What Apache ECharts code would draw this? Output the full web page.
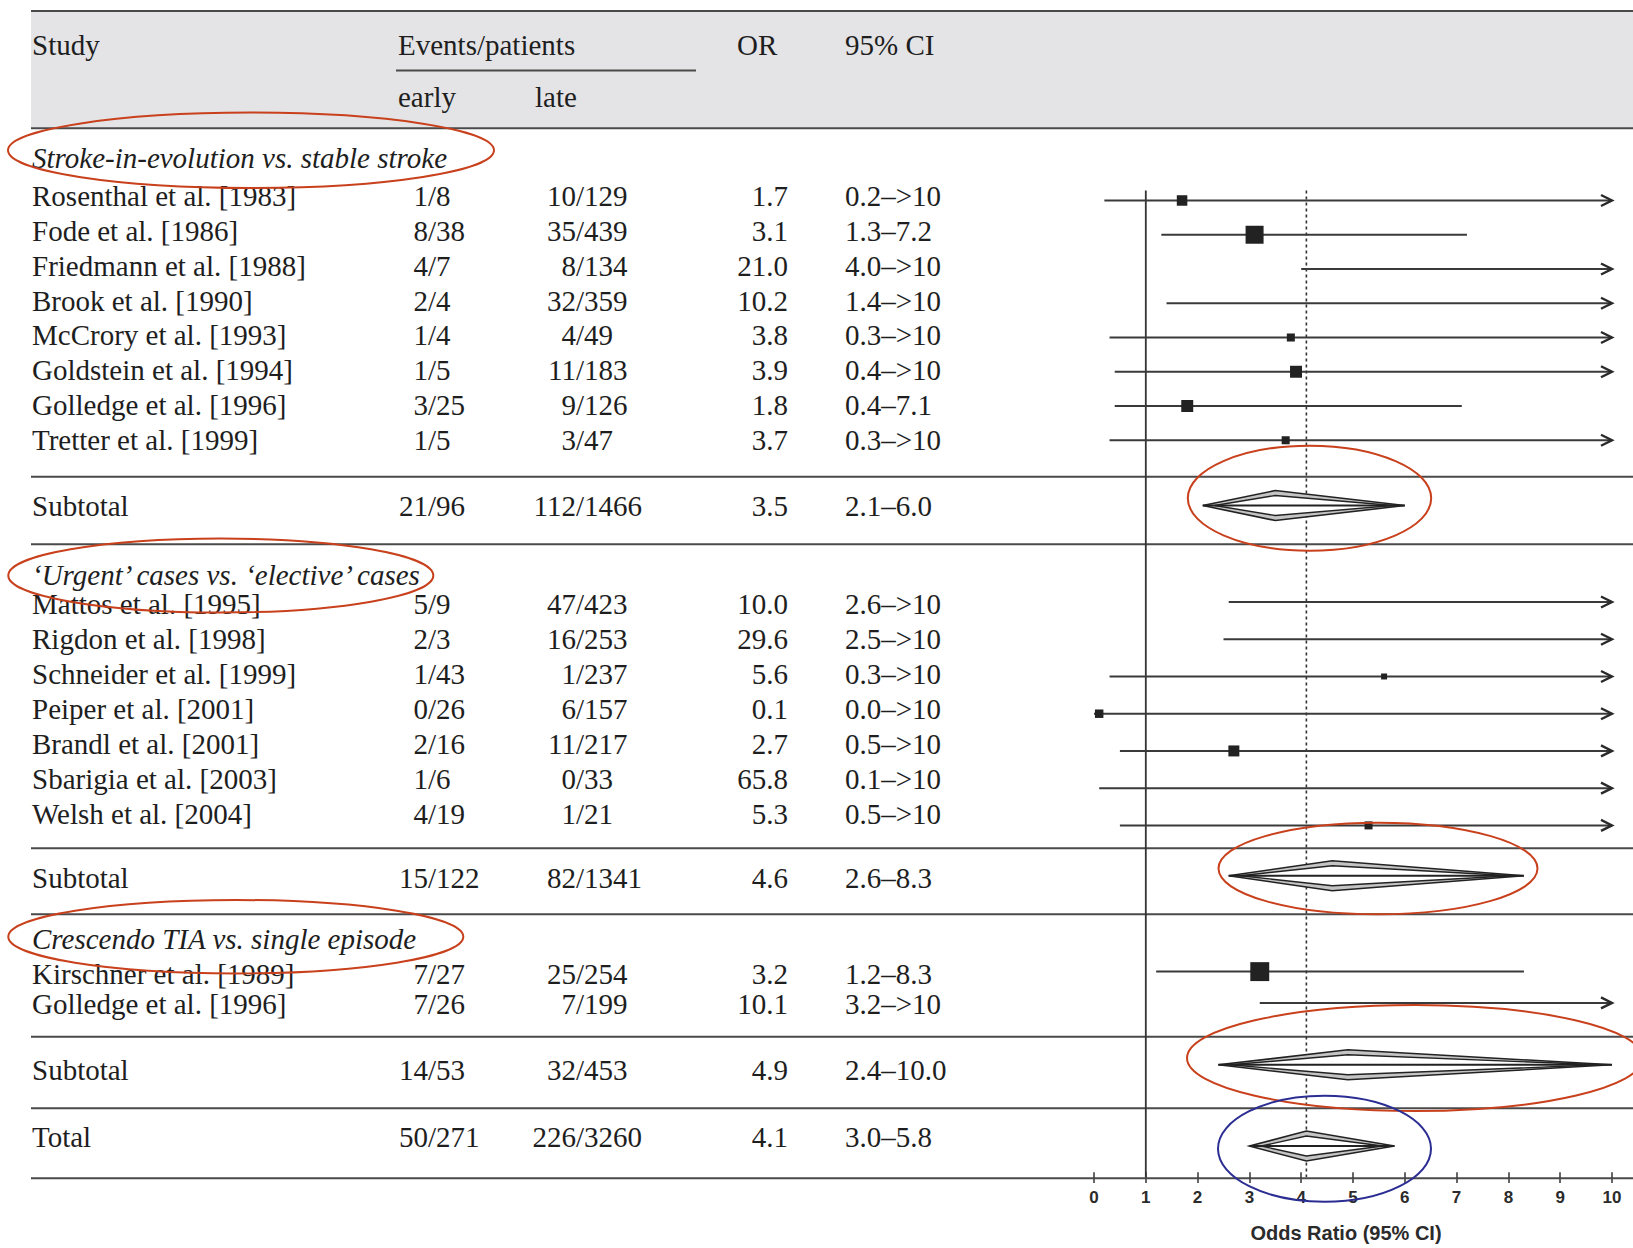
<!DOCTYPE html>
<html>
<head>
<meta charset="utf-8">
<script src="https://cdn.jsdelivr.net/npm/echarts@6/dist/echarts.min.js"></script>
<style>
html,body{margin:0;padding:0;background:#fff;}
#chart{width:1633px;height:1248px;}
</style>
</head>
<body>
<div id="chart"></div>
<script>
// ===================== DATA =====================
const headerStudy = "Study";
const headerEvents = "Events/patients";
const headerEarly = "early";
const headerLate = "late";
const headerOR = "OR";
const headerCI = "95% CI";

const groupTitles = [
  "Stroke-in-evolution vs. stable stroke",
  "\u2018Urgent\u2019 cases vs. \u2018elective\u2019 cases",
  "Crescendo TIA vs. single episode"
];

const studyNames = [
  "Rosenthal et al. [1983]", "Fode et al. [1986]", "Friedmann et al. [1988]", "Brook et al. [1990]",
  "McCrory et al. [1993]", "Goldstein et al. [1994]", "Golledge et al. [1996]", "Tretter et al. [1999]",
  "Mattos et al. [1995]", "Rigdon et al. [1998]", "Schneider et al. [1999]", "Peiper et al. [2001]",
  "Brandl et al. [2001]", "Sbarigia et al. [2003]", "Welsh et al. [2004]",
  "Kirschner et al. [1989]", "Golledge et al. [1996]"
];
const studyGroup    = [0,0,0,0,0,0,0,0, 1,1,1,1,1,1,1, 2,2];
const earlyEvents   = [1,8,4,2,1,1,3,1, 5,2,1,0,2,1,4, 7,7];
const earlyPatients = [8,38,7,4,4,5,25,5, 9,3,43,26,16,6,19, 27,26];
const lateEvents    = [10,35,8,32,4,11,9,3, 47,16,1,6,11,0,1, 25,7];
const latePatients  = [129,439,134,359,49,183,126,47, 423,253,237,157,217,33,21, 254,199];
const oddsRatio     = [1.7,3.1,21.0,10.2,3.8,3.9,1.8,3.7, 10.0,29.6,5.6,0.1,2.7,65.8,5.3, 3.2,10.1];
const ciLower       = [0.2,1.3,4.0,1.4,0.3,0.4,0.4,0.3, 2.6,2.5,0.3,0.0,0.5,0.1,0.5, 1.2,3.2];
const ciUpper       = [">10",7.2,">10",">10",">10",">10",7.1,">10",
                       ">10",">10",">10",">10",">10",">10",">10", 8.3,">10"];
// estimated relative study weights (square area)
const studyWeight   = [10.8,31.6,4,3,6.3,14,14,6.3, 6,3,3.5,7,11.8,2,6.3, 35,9];

const pooledLabels        = ["Subtotal","Subtotal","Subtotal","Total"];
const pooledEarlyEvents   = [21,15,14,50];
const pooledEarlyPatients = [96,122,53,271];
const pooledLateEvents    = [112,82,32,226];
const pooledLatePatients  = [1466,1341,453,3260];
const pooledOR            = [3.5,4.6,4.9,4.1];
const pooledLower         = [2.1,2.6,2.4,3.0];
const pooledUpper         = [6.0,8.3,10.0,5.8];

const axisMin = 0, axisMax = 10, axisStep = 1;
const axisTitle = "Odds Ratio (95% CI)";

// ===================== LAYOUT (pixels) =====================
const W = 1633, H = 1248;
const COL = { name: 32, earlySlash: 428, lateSlash: 576, orRight: 788, ciLeft: 845,
              lineL: 31, lineR: 1633, evLeft: 398, lateLeft: 535, orLeft: 737 };
const HEAD = { top: 11, bottom: 128.3, row1: 45, row2: 97, underY: 70.5, underL: 396, underR: 696 };
const GL = [
  {head: 29.7, first: 38,   step: 34.85, plotFirst: 42.7, plotStep: 34.29, toLine: 36.7, toSub: 29.7, toNext: 67.6, subShift: -0.3},
  {head: 30.7, first: 29.3, step: 34.95, plotFirst: 27.7, plotStep: 37.27, toLine: 34.3, toSub: 30,   toNext: 66,   subShift: -1.6},
  {head: 24.7, first: 35.3, step: 30,    plotFirst: 33.7, plotStep: 31.3,  toLine: 32.4, toSub: 33.3, toNext: 71.6, subShift: -4}
];
const TL = { text: 29, axis: 70, plotShift: 10 };
const FOREST = { left: 1094, width: 518 };

// ===================== BUILD =====================
const fmt = v => v.toFixed(1);
const upperNum = u => (typeof u === 'string') ? Infinity : u;
const upperTxt = u => (typeof u === 'string') ? u : fmt(u);

const textItems = [];
const hLines = [];
const ciData = [], sqData = [], diamondData = [];

function addText(x, y, text, align, italic) {
  textItems.push({x, y, text, align: align || 'left', italic: !!italic});
}
function addRow(y, name, ee, ep, le, lp, or, lo, up) {
  addText(COL.name, y, name);
  addText(COL.earlySlash, y, String(ee), 'right');
  addText(COL.earlySlash, y, '/' + ep, 'left');
  addText(COL.lateSlash, y, String(le), 'right');
  addText(COL.lateSlash, y, '/' + lp, 'left');
  addText(COL.orRight, y, fmt(or), 'right');
  addText(COL.ciLeft, y, fmt(lo) + '\u2013' + upperTxt(up), 'left');
}

// header
addText(COL.name, HEAD.row1, headerStudy);
addText(COL.evLeft, HEAD.row1, headerEvents);
addText(COL.orLeft, HEAD.row1, headerOR);
addText(COL.ciLeft, HEAD.row1, headerCI);
addText(COL.evLeft, HEAD.row2, headerEarly);
addText(COL.lateLeft, HEAD.row2, headerLate);
hLines.push([COL.lineL, HEAD.top, COL.lineR, HEAD.top]);
hLines.push([COL.lineL, HEAD.bottom, COL.lineR, HEAD.bottom]);
hLines.push([HEAD.underL, HEAD.underY, HEAD.underR, HEAD.underY]);

let L = HEAD.bottom;
let firstPlotY = null;
groupTitles.forEach((title, g) => {
  const gl = GL[g];
  const hy = L + gl.head;
  addText(COL.name, hy, title, 'left', true);
  let k = 0, lastY = hy;
  studyGroup.forEach((grp, s) => {
    if (grp !== g) return;
    const ty = hy + gl.first + k * gl.step;
    const py = hy + gl.plotFirst + k * gl.plotStep;
    addRow(ty, studyNames[s], earlyEvents[s], earlyPatients[s], lateEvents[s], latePatients[s],
           oddsRatio[s], ciLower[s], ciUpper[s]);
    const hiVal = upperNum(ciUpper[s]);
    ciData.push([Math.max(ciLower[s], axisMin), Math.min(hiVal, axisMax), py, hiVal > axisMax ? 1 : 0]);
    if (oddsRatio[s] < axisMax) sqData.push([oddsRatio[s], py, studyWeight[s]]);
    if (firstPlotY === null) firstPlotY = py;
    lastY = ty; k++;
  });
  const l1 = lastY + gl.toLine;
  const sy = l1 + gl.toSub;
  const l2 = l1 + gl.toNext;
  hLines.push([COL.lineL, l1, COL.lineR, l1]);
  hLines.push([COL.lineL, l2, COL.lineR, l2]);
  addRow(sy, pooledLabels[g], pooledEarlyEvents[g], pooledEarlyPatients[g], pooledLateEvents[g],
         pooledLatePatients[g], pooledOR[g], pooledLower[g], pooledUpper[g]);
  diamondData.push([pooledLower[g], pooledOR[g], Math.min(pooledUpper[g], axisMax), sy + gl.subShift]);
  L = l2;
});
const totY = L + TL.text;
const axisY = L + TL.axis;
addRow(totY, pooledLabels[3], pooledEarlyEvents[3], pooledEarlyPatients[3], pooledLateEvents[3],
       pooledLatePatients[3], pooledOR[3], pooledLower[3], pooledUpper[3]);
diamondData.push([pooledLower[3], pooledOR[3], Math.min(pooledUpper[3], axisMax), totY + TL.plotShift]);
hLines.push([COL.lineL, axisY, COL.lineR, axisY]);

const refTop = firstPlotY - 10;
const refData = [[1, refTop, axisY, 0], [pooledOR[3], refTop, axisY, 1]];

// annotation ellipses (hand-drawn marks on the figure)
const ANNOT = [
  {cx: 251,    cy: 150.3, rx: 243,   ry: 37.7, c: '#c8401c'},
  {cx: 220.8,  cy: 575.5, rx: 212.5, ry: 37,   c: '#c8401c'},
  {cx: 235.8,  cy: 936.7, rx: 227.5, ry: 36.7, c: '#c8401c'},
  {cx: 1309.5, cy: 498.2, rx: 121.7, ry: 52.5, c: '#c8401c'},
  {cx: 1378,   cy: 868.5, rx: 159.5, ry: 45.8, c: '#c8401c'},
  {cx: 1415,   cy: 1058,  rx: 228,   ry: 53,   c: '#c8401c'},
  {cx: 1324.5, cy: 1148.7, rx: 106.5, ry: 53,  c: '#2b2d92'}
];

// ===================== CHART =====================
const chart = echarts.init(document.getElementById('chart'), null, {renderer: 'svg', width: W, height: H});

const INK = '#1e1e1e';
const LINE = '#4a4a4a';
const forestGrid = {left: FOREST.left, top: 0, width: FOREST.width, height: axisY};

const option = {
  backgroundColor: '#ffffff',
  animation: false,
  grid: [
    {left: 0, top: 0, width: W, height: H},
    Object.assign({}, forestGrid),
    Object.assign({}, forestGrid)
  ],
  xAxis: [
    {gridIndex: 0, type: 'value', min: 0, max: W, show: false},
    {gridIndex: 1, type: 'value', min: axisMin, max: axisMax, interval: axisStep, position: 'bottom',
     axisLine: {show: false, onZero: false},
     axisTick: {show: true, length: 6, lineStyle: {color: '#333', width: 1.5}},
     axisLabel: {margin: 12, color: '#2b2b2b', fontFamily: 'Liberation Sans', fontWeight: 'bold', fontSize: 17},
     splitLine: {show: false},
     name: axisTitle, nameLocation: 'middle', nameGap: 46,
     nameTextStyle: {color: '#2b2b2b', fontFamily: 'Liberation Sans', fontWeight: 'bold', fontSize: 20,
                     padding: [0, 14, 0, 0]}},
    {gridIndex: 2, type: 'value', min: axisMin, max: axisMax, interval: axisStep, position: 'bottom',
     axisLine: {show: false, onZero: false},
     axisTick: {show: true, inside: true, length: 6, lineStyle: {color: '#333', width: 1.5}},
     axisLabel: {show: false}, splitLine: {show: false}}
  ],
  yAxis: [
    {gridIndex: 0, type: 'value', min: 0, max: H, inverse: true, show: false},
    {gridIndex: 1, type: 'value', min: 0, max: axisY, inverse: true, show: false},
    {gridIndex: 2, type: 'value', min: 0, max: axisY, inverse: true, show: false}
  ],
  series: [
    { // header band
      type: 'custom', xAxisIndex: 0, yAxisIndex: 0, silent: true, z: 0,
      data: [[COL.lineL, HEAD.top, COL.lineR, HEAD.bottom]],
      encode: {x: [0, 2], y: [1, 3]},
      renderItem: (params, api) => {
        const a = api.coord([api.value(0), api.value(1)]);
        const b = api.coord([api.value(2), api.value(3)]);
        return {type: 'rect', shape: {x: a[0], y: a[1], width: b[0] - a[0], height: b[1] - a[1]},
                style: {fill: '#e4e4e6'}};
      }
    },
    { // table rules
      type: 'custom', xAxisIndex: 0, yAxisIndex: 0, silent: true, z: 1,
      data: hLines,
      encode: {x: [0, 2], y: [1, 3]},
      renderItem: (params, api) => {
        const a = api.coord([api.value(0), api.value(1)]);
        const b = api.coord([api.value(2), api.value(3)]);
        return {type: 'line', shape: {x1: a[0], y1: a[1], x2: b[0], y2: b[1]},
                style: {stroke: LINE, lineWidth: 2}};
      }
    },
    { // table text
      type: 'custom', xAxisIndex: 0, yAxisIndex: 0, silent: true, z: 2,
      data: textItems.map(t => [t.x, t.y]),
      renderItem: (params, api) => {
        const t = textItems[params.dataIndex];
        const p = api.coord([api.value(0), api.value(1)]);
        return {type: 'text', x: p[0], y: p[1],
                style: {text: t.text, fill: INK, fontFamily: 'Liberation Serif', fontSize: 29,
                        fontStyle: t.italic ? 'italic' : 'normal',
                        align: t.align, verticalAlign: 'middle'}};
      }
    },
    { // reference lines (no effect, pooled OR)
      type: 'custom', xAxisIndex: 1, yAxisIndex: 1, silent: true, z: 3,
      data: refData,
      renderItem: (params, api) => {
        const a = api.coord([api.value(0), api.value(1)]);
        const b = api.coord([api.value(0), api.value(2)]);
        const dashed = api.value(3) === 1;
        return {type: 'line', shape: {x1: a[0], y1: a[1], x2: b[0], y2: b[1]},
                style: {stroke: '#333', lineWidth: dashed ? 1.6 : 1.8, lineDash: dashed ? [3, 3] : null}};
      }
    },
    { // confidence intervals
      type: 'custom', xAxisIndex: 1, yAxisIndex: 1, silent: true, z: 4,
      data: ciData,
      encode: {x: [0, 1], y: 2},
      renderItem: (params, api) => {
        const lo = api.coord([api.value(0), api.value(2)]);
        const hi = api.coord([api.value(1), api.value(2)]);
        const children = [{type: 'line', shape: {x1: lo[0], y1: lo[1], x2: hi[0], y2: hi[1]},
                           style: {stroke: '#3a3a3a', lineWidth: 2}}];
        if (api.value(3) === 1) {
          children.push({type: 'polyline',
            shape: {points: [[hi[0] - 11, hi[1] - 5.5], [hi[0], hi[1]], [hi[0] - 11, hi[1] + 5.5]]},
            style: {stroke: '#2a2a2a', lineWidth: 2.4, fill: 'none'}});
        }
        return {type: 'group', children};
      }
    },
    { // study squares
      type: 'custom', xAxisIndex: 1, yAxisIndex: 1, silent: true, z: 5,
      data: sqData,
      encode: {x: 0, y: 1},
      renderItem: (params, api) => {
        const c = api.coord([api.value(0), api.value(1)]);
        const s = 3.2 * Math.sqrt(api.value(2));
        return {type: 'rect', shape: {x: c[0] - s / 2, y: c[1] - s / 2, width: s, height: s},
                style: {fill: '#222222'}};
      }
    },
    { // pooled diamonds
      type: 'custom', xAxisIndex: 1, yAxisIndex: 1, silent: true, z: 5,
      data: diamondData,
      encode: {x: [0, 2], y: 3},
      renderItem: (params, api) => {
        const lo = api.coord([api.value(0), api.value(3)]);
        const md = api.coord([api.value(1), api.value(3)]);
        const hi = api.coord([api.value(2), api.value(3)]);
        const y = md[1], h = 15, hin = 10, ins = 12;
        return {type: 'group', children: [
          {type: 'polygon', shape: {points: [[lo[0], y], [md[0], y - h], [hi[0], y], [md[0], y + h]]},
           style: {fill: '#c4c4c4', stroke: '#222', lineWidth: 1.6}},
          {type: 'polygon', shape: {points: [[lo[0] + ins, y], [md[0], y - hin], [hi[0] - ins, y], [md[0], y + hin]]},
           style: {fill: '#ffffff', stroke: '#222', lineWidth: 1.4}},
          {type: 'line', shape: {x1: lo[0], y1: y, x2: hi[0], y2: y},
           style: {stroke: '#222', lineWidth: 2}}
        ]};
      }
    }
  ],
  graphic: {
    elements: ANNOT.map(e => ({
      type: 'ellipse', silent: true, z: 100,
      shape: {cx: e.cx, cy: e.cy, rx: e.rx, ry: e.ry},
      style: {fill: 'none', stroke: e.c, lineWidth: 2}
    }))
  }
};

chart.setOption(option);
</script>
</body>
</html>
